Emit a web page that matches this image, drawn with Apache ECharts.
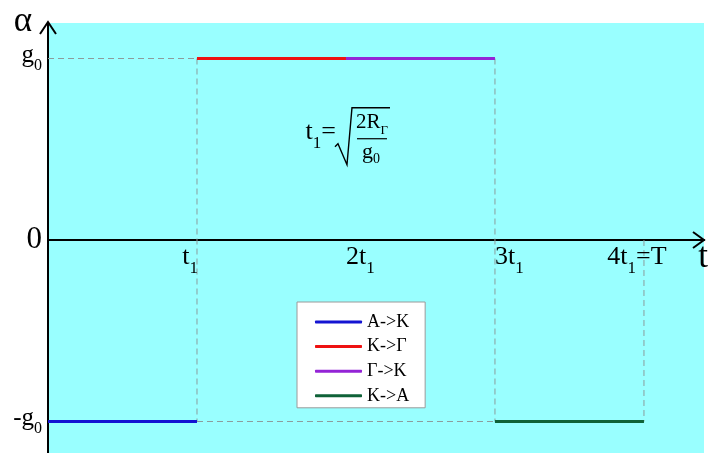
<!DOCTYPE html>
<html>
<head>
<meta charset="utf-8">
<script src="https://cdn.jsdelivr.net/npm/echarts@6/dist/echarts.min.js"></script>
<style>
  html, body { margin: 0; padding: 0; background: #fff; }
  #chart { width: 711px; height: 453px; }
</style>
</head>
<body>
<div id="chart"></div>
<script>
// Angular acceleration profile over one cycle (time in units of t1, alpha in units of g0)
const phaseNames = ['A->K', 'K->Γ', 'Γ->K', 'K->A'];
const phaseStart = [0, 1, 2, 3];
const phaseEnd = [1, 2, 3, 4];
const alphaLevel = [-1, 1, 1, -1];
const phaseColors = ['#1414d2', '#ee1111', '#9424d6', '#0f6238'];

const xTickValues = [1, 2, 3, 4];
const xTickLabels = ['t{s|1}', '2t{s|1}', '3t{s|1}', '4t{s|1}=T'];
const yTickValues = [-1, 0, 1];
const yTickLabels = ['{m|-g}{s|0}', '{z|0}', '{m|g}{s|0}'];

// dashed helper lines [from, to] in (t, alpha)
const guideSegments = [
  [[0, 1], [1, 1]],
  [[1, -1], [3, -1]],
  [[1, 1], [1, -1]],
  [[3, 1], [3, -1]],
  [[4, 0], [4, -1]]
];

const SERIF = '"Liberation Serif", "DejaVu Serif", serif';
const chart = echarts.init(document.getElementById('chart'), null, { renderer: 'canvas' });

const series = [];
guideSegments.forEach(function (seg, i) {
  series.push({
    type: 'line',
    name: 'guide' + i,
    data: seg,
    showSymbol: false,
    silent: true,
    z: 1,
    lineStyle: { color: '#8c9c9c', width: 1, type: [6, 4] }
  });
});
phaseNames.forEach(function (name, i) {
  series.push({
    type: 'line',
    name: name,
    data: [[phaseStart[i], alphaLevel[i]], [phaseEnd[i], alphaLevel[i]]],
    showSymbol: false,
    z: 3,
    color: phaseColors[i],
    lineStyle: { color: phaseColors[i], width: 3 }
  });
});

chart.setOption({
  animation: false,
  backgroundColor: '#ffffff',
  grid: {
    left: 48, right: 7, top: 23, bottom: 0,
    show: true, backgroundColor: '#99ffff', borderWidth: 0
  },
  xAxis: {
    type: 'value',
    min: 0,
    max: 4.403,
    axisLine: { onZero: true, lineStyle: { color: '#000', width: 2 } },
    axisTick: { show: false },
    axisLabel: { show: false },
    splitLine: { show: false }
  },
  yAxis: {
    type: 'value',
    min: -1.1736,
    max: 1.1956,
    axisLine: { show: true, onZero: false, lineStyle: { color: '#000', width: 2 } },
    axisTick: { show: false },
    splitLine: { show: false },
    axisLabel: {
      customValues: yTickValues,
      margin: 6,
      color: '#000',
      fontFamily: SERIF,
      formatter: function (v) {
        return yTickLabels[yTickValues.indexOf(Math.round(v))];
      },
      rich: {
        m: { fontFamily: SERIF, fontSize: 25, color: '#000', verticalAlign: 'bottom', padding: [0, 0, 6, 0] },
        s: { fontFamily: SERIF, fontSize: 16, color: '#000', verticalAlign: 'bottom' },
        z: { fontFamily: SERIF, fontSize: 31, color: '#000' }
      }
    }
  },
  legend: {
    data: phaseNames,
    orient: 'vertical',
    left: 297,
    top: 302,
    backgroundColor: '#ffffff',
    borderColor: '#9a9a9a',
    borderWidth: 1,
    borderRadius: 0,
    padding: [11, 16, 3, 18],
    itemWidth: 47,
    itemHeight: 3,
    itemGap: 6.6,
    icon: 'roundRect',
    textStyle: { fontFamily: SERIF, fontSize: 18, color: '#000', lineHeight: 18 }
  },
  series: series
});

function px(x, y) { return chart.convertToPixel({ gridIndex: 0 }, [x, y]); }

const subRich = {
  m: { fontFamily: SERIF, fontSize: 26, fill: '#000', verticalAlign: 'bottom', padding: [0, 0, 7, 0] },
  s: { fontFamily: SERIF, fontSize: 17, fill: '#000', verticalAlign: 'bottom' }
};

function richLabel(text) {
  // wrap plain runs as main-size tokens so every run shares the same baseline rule
  return text.replace(/([^{}|]+)(?=\{|$)/g, function (run) { return '{m|' + run + '}'; });
}

const origin = px(0, 0);
const axisTop = px(0, 1.1956);
const axisRight = px(4.403, 0);
const graphics = [];

// axis arrow heads
graphics.push({
  type: 'polyline', z: 10,
  shape: { points: [[origin[0] - 8, axisTop[1] + 11], [origin[0], axisTop[1] - 1], [origin[0] + 8, axisTop[1] + 11]] },
  style: { stroke: '#000', lineWidth: 2, fill: null }
});
graphics.push({
  type: 'polyline', z: 10,
  shape: { points: [[axisRight[0] - 11, origin[1] - 8], [axisRight[0], origin[1]], [axisRight[0] - 11, origin[1] + 8]] },
  style: { stroke: '#000', lineWidth: 2, fill: null }
});

// axis names
graphics.push({
  type: 'text', z: 10, x: origin[0] - 16, y: axisTop[1] - 1,
  style: { text: 'α', font: '35px ' + SERIF, fill: '#000', align: 'right', verticalAlign: 'middle' }
});
graphics.push({
  type: 'text', z: 10, x: axisRight[0] - 1, y: origin[1] + 18,
  style: { text: 't', font: '35px ' + SERIF, fill: '#000', align: 'center', verticalAlign: 'middle' }
});

// x tick labels
const xAlign = ['right', 'left', 'left', 'center'];
const xShift = [1, 0, 0, -7];
xTickValues.forEach(function (v, i) {
  const p = px(v, 0);
  graphics.push({
    type: 'text', z: 10, x: p[0] + xShift[i], y: origin[1] + 4,
    style: { text: richLabel(xTickLabels[i]), rich: subRich, align: xAlign[i], verticalAlign: 'top', fill: '#000' }
  });
});

// formula t1 = sqrt(2R_Γ / g0)
const f = px(2, 0.58);
graphics.push({
  type: 'group', x: f[0], y: f[1], z: 10,
  children: [
    { type: 'text', x: -10, y: 17,
      style: { text: '{m|t}{s|1}{m|=}', rich: subRich, align: 'right', verticalAlign: 'bottom', fill: '#000' } },
    { type: 'polyline',
      shape: { points: [[-11, 12], [-8, 9], [1, 30], [6, -27], [44, -27]] },
      style: { stroke: '#000', lineWidth: 1.4, fill: null } },
    { type: 'line', shape: { x1: 11, y1: 4, x2: 41, y2: 4 }, style: { stroke: '#000', lineWidth: 1.2 } },
    { type: 'text', x: 26, y: 2,
      style: { text: '{n|2R}{q|Γ}', align: 'center', verticalAlign: 'bottom', fill: '#000',
        rich: {
          n: { fontFamily: SERIF, fontSize: 21, fill: '#000', verticalAlign: 'bottom', padding: [0, 0, 4, 0] },
          q: { fontFamily: SERIF, fontSize: 13, fill: '#000', verticalAlign: 'bottom' }
        } } },
    { type: 'text', x: 25, y: 6,
      style: { text: '{n|g}{q|0}', align: 'center', verticalAlign: 'top', fill: '#000',
        rich: {
          n: { fontFamily: SERIF, fontSize: 22, fill: '#000', verticalAlign: 'bottom', padding: [0, 0, 4, 0] },
          q: { fontFamily: SERIF, fontSize: 14, fill: '#000', verticalAlign: 'bottom' }
        } } }
  ]
});

chart.setOption({ graphic: graphics });
</script>
</body>
</html>
